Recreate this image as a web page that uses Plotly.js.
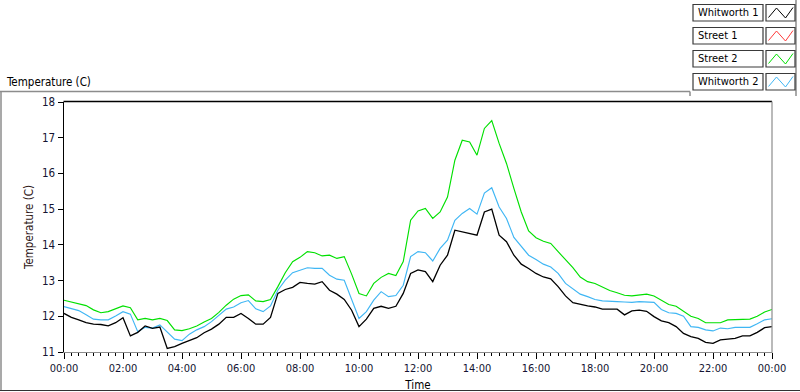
<!DOCTYPE html>
<html>
<head>
<meta charset="utf-8">
<script src="https://cdn.plot.ly/plotly-3.0.1.min.js"></script>
<style>
html,body{margin:0;padding:0;background:#fff;}
#chart{width:800px;height:392px;}
</style>
</head>
<body>
<div id="chart"></div>
<script>
// ---------------- DATA ----------------
const times = [
"00:00","00:15","00:30","00:45","01:00","01:15","01:30","01:45",
"02:00","02:15","02:30","02:45","03:00","03:15","03:30","03:45",
"04:00","04:15","04:30","04:45","05:00","05:15","05:30","05:45",
"06:00","06:15","06:30","06:45","07:00","07:15","07:30","07:45",
"08:00","08:15","08:30","08:45","09:00","09:15","09:30","09:45",
"10:00","10:15","10:30","10:45","11:00","11:15","11:30","11:45",
"12:00","12:15","12:30","12:45","13:00","13:15","13:30","13:45",
"14:00","14:15","14:30","14:45","15:00","15:15","15:30","15:45",
"16:00","16:15","16:30","16:45","17:00","17:15","17:30","17:45",
"18:00","18:15","18:30","18:45","19:00","19:15","19:30","19:45",
"20:00","20:15","20:30","20:45","21:00","21:15","21:30","21:45",
"22:00","22:15","22:30","22:45","23:00","23:15","23:30","23:45",
"24:00"];

const whitworth1 = [
12.08,11.97,11.90,11.82,11.78,11.77,11.73,11.82,
11.96,11.45,11.55,11.73,11.66,11.70,11.10,11.15,
11.24,11.31,11.40,11.54,11.64,11.78,11.97,11.97,
12.08,11.94,11.78,11.78,11.97,12.64,12.75,12.81,
12.95,12.92,12.90,12.97,12.73,12.62,12.47,12.17,
11.71,11.92,12.22,12.28,12.22,12.28,12.64,13.20,
13.30,13.25,12.97,13.43,13.71,14.41,14.36,14.32,
14.27,14.92,15.00,14.27,14.09,13.71,13.46,13.34,
13.20,13.10,13.05,12.83,12.57,12.38,12.33,12.29,
12.26,12.20,12.20,12.20,12.04,12.15,12.17,12.14,
11.99,11.87,11.82,11.71,11.52,11.43,11.38,11.27,
11.24,11.34,11.36,11.38,11.45,11.45,11.55,11.68,
11.71];

const street1 = [];

const street2 = [
12.45,12.40,12.36,12.30,12.18,12.10,12.13,12.22,
12.29,12.24,11.90,11.94,11.90,11.94,11.88,11.62,
11.60,11.65,11.73,11.84,11.94,12.11,12.31,12.48,
12.58,12.60,12.43,12.41,12.47,12.83,13.22,13.53,
13.65,13.81,13.78,13.69,13.71,13.62,13.67,13.18,
12.64,12.57,12.92,13.09,13.20,13.14,13.53,14.69,
14.95,15.02,14.74,14.92,15.34,16.37,16.93,16.88,
16.51,17.26,17.48,16.84,16.28,15.58,14.92,14.39,
14.20,14.10,14.04,13.81,13.60,13.36,13.10,12.97,
12.92,12.83,12.72,12.66,12.59,12.57,12.59,12.62,
12.57,12.45,12.33,12.28,12.14,12.00,11.94,11.82,
11.82,11.82,11.90,11.90,11.90,11.92,12.00,12.12,
12.19];

const whitworth2 = [
12.27,12.22,12.16,12.04,11.92,11.90,11.90,12.01,
12.13,12.06,11.57,11.69,11.67,11.76,11.57,11.36,
11.32,11.50,11.62,11.71,11.85,12.02,12.20,12.26,
12.38,12.44,12.21,12.13,12.29,12.73,13.01,13.22,
13.30,13.36,13.34,13.34,13.15,13.04,13.01,12.50,
11.94,12.13,12.45,12.69,12.55,12.58,12.87,13.67,
13.81,13.78,13.55,13.90,14.13,14.69,14.88,15.02,
14.86,15.45,15.60,15.06,14.74,14.21,13.95,13.71,
13.59,13.46,13.38,13.20,12.92,12.76,12.62,12.55,
12.47,12.43,12.41,12.41,12.40,12.39,12.41,12.41,
12.39,12.19,12.10,12.08,12.00,11.71,11.69,11.62,
11.59,11.67,11.65,11.69,11.69,11.69,11.79,11.90,
11.93];

const seriesNames = ["Whitworth 1","Street 1","Street 2","Whitworth 2"];
const seriesColors = ["#000000","#ff3b3b","#00e000","#3fb6f4"];
const yTicks = [11,12,13,14,15,16,17,18];

// ---------------- BUILD ----------------
const toDate = t => t === "24:00" ? "2024-01-02 00:00" : "2024-01-01 " + t;
const xs = times.map(toDate);
const seriesData = [whitworth1, street1, street2, whitworth2];

const traces = [];
[2,3,1,0].forEach(i => {
  traces.push({
    type: "scatter", mode: "lines",
    x: xs.slice(0, seriesData[i].length),
    y: seriesData[i],
    name: seriesNames[i],
    line: {color: seriesColors[i], width: i === 0 ? 1.3 : 1.15},
    showlegend: false, hoverinfo: "skip"
  });
});

const W = 800, H = 392;
const M = {l: 64, r: 28, t: 102, b: 40};
const PW = W - M.l - M.r, PH = H - M.t - M.b;
const px = x => (x - M.l) / PW;
const py = y => 1 - (y - M.t) / PH;

const FONT = "DejaVu Sans Condensed, Liberation Sans, Arial, sans-serif";
const shapes = [];
const annotations = [];

function line(x0, y0, x1, y1, color, width) {
  shapes.push({type: "line", xref: "paper", yref: "paper",
    x0: px(x0), y0: py(y0), x1: px(x1), y1: py(y1),
    line: {color: color, width: width}});
}

// outer frame
line(0, 91.5, 690, 91.5, "#8c8c8c", 1.5);
line(690, 91.5, 690, 96, "#8c8c8c", 1.5);
line(1, 91.5, 1, 390.5, "#8c8c8c", 1.5);
line(0, 390.5, 800, 390.5, "#333333", 1.2);
line(796, 0, 796, 96, "#8c8c8c", 1.5);
// plot frame: top black, right gray
line(63.5, 101.5, 772, 101.5, "#000000", 1.5);
line(772, 101.5, 772, 353, "#8c8c8c", 1.2);

// legend
const rowTop = [4.5, 27.5, 50.5, 73.5];
const rowH = 16.5;
seriesNames.forEach((nm, i) => {
  const y0 = rowTop[i], y1 = y0 + rowH;
  shapes.push({type: "rect", xref: "paper", yref: "paper",
    x0: px(693), x1: px(763), y0: py(y1), y1: py(y0),
    line: {color: "#3a3a3a", width: 1.2}, fillcolor: "#ffffff"});
  shapes.push({type: "rect", xref: "paper", yref: "paper",
    x0: px(766), x1: px(795), y0: py(y1), y1: py(y0),
    line: {color: "#3a3a3a", width: 1.2}, fillcolor: "#ffffff"});
  const pts = [[768.5, y0 + 13], [776.5, y0 + 3.5], [785.5, y0 + 13.5], [793, y0 + 3]];
  const path = "M" + pts.map(p => px(p[0]) + "," + py(p[1])).join(" L");
  shapes.push({type: "path", xref: "paper", yref: "paper", path: path,
    line: {color: seriesColors[i], width: 1}});
  annotations.push({xref: "paper", yref: "paper", x: px(695.5), y: py(y0 + rowH / 2),
    xanchor: "left", yanchor: "middle", showarrow: false, text: nm,
    font: {family: FONT, size: 11, color: "#000"}});
});

// top-left label
annotations.push({xref: "paper", yref: "paper", x: px(4), y: py(82),
  xanchor: "left", yanchor: "middle", showarrow: false, text: "Temperature (C)",
  font: {family: FONT, size: 11.5, color: "#000"}});

const layout = {
  width: W, height: H,
  margin: M,
  paper_bgcolor: "#ffffff", plot_bgcolor: "#ffffff",
  font: {family: FONT, size: 11, color: "#141432"},
  showlegend: false,
  xaxis: {
    type: "date",
    range: ["2024-01-01 00:00", "2024-01-02 00:00"],
    tick0: "2024-01-01 00:00", dtick: 7200000,
    tickformat: "%H:%M",
    ticks: "outside", ticklen: 6, tickcolor: "#000", tickwidth: 1,
    minor: {dtick: 900000, ticks: "outside", ticklen: 3, tickcolor: "#000", tickwidth: 1, showgrid: false},
    showgrid: false, zeroline: false,
    showline: true, linecolor: "#8c8c8c", linewidth: 1.2,
    tickfont: {family: FONT, size: 11, color: "#141432"},
    title: {text: "Time", standoff: 6, font: {family: FONT, size: 11.5, color: "#000"}}
  },
  yaxis: {
    range: [11, 18],
    tickvals: yTicks,
    ticks: "outside", ticklen: 5, tickcolor: "#000", tickwidth: 1,
    showgrid: false, zeroline: false,
    showline: true, linecolor: "#000", linewidth: 1.5,
    tickfont: {family: FONT, size: 11.5, color: "#141432"},
    title: {text: "Temperature (C)", standoff: 6, font: {family: FONT, size: 11.5, color: "#301818"}}
  },
  shapes: shapes,
  annotations: annotations
};

Plotly.newPlot("chart", traces, layout, {staticPlot: true, displayModeBar: false});
</script>
</body>
</html>
